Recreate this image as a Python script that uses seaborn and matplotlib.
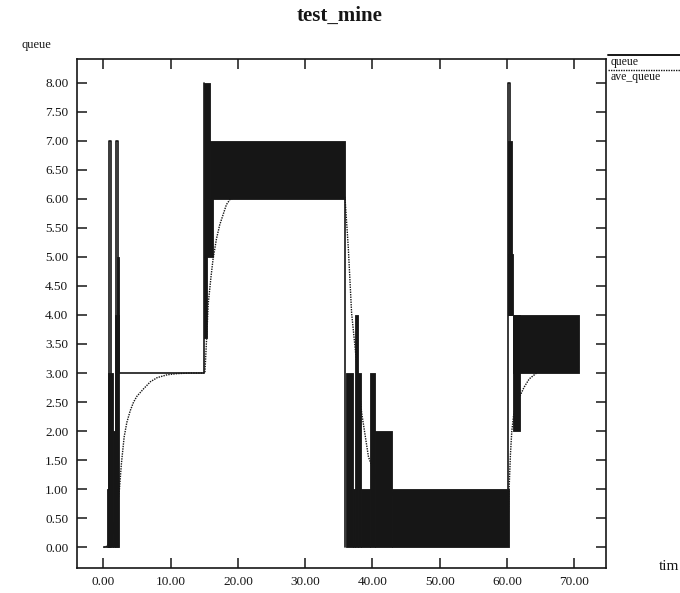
import matplotlib
matplotlib.use("Agg")
import matplotlib.pyplot as plt
from matplotlib.lines import Line2D
import pandas as pd
import seaborn as sns

# ---- data -------------------------------------------------------------
# Connected stretches of the instantaneous queue trace (time, packets)
queue_time_runs = [
    [0.1, 0.6],
    [0.86, 0.86, 1.16, 1.16],
    [1.84, 1.84, 2.14, 2.14],
    [2.3, 15.0, 15.0],
    [35.9, 35.9],
    [60.2, 60.2, 60.45, 60.45],
]
queue_level_runs = [
    [0, 0],
    [0, 7, 7, 0],
    [0, 7, 7, 0],
    [3, 3, 8],
    [6, 0],
    [1, 8, 8, 4],
]

# Intervals where the queue flips rapidly between a low and a high level
band_start = [0.6, 0.75, 1.4, 1.75, 2.1, 14.9, 14.9, 14.9, 15.85,
              36.0, 37.1, 37.4, 37.9, 38.3, 39.6, 40.4, 42.85,
              60.2, 60.2, 60.85, 60.85]
band_end = [1.0, 1.4, 1.75, 2.3, 2.3, 15.85, 16.3, 15.35, 35.9,
            37.1, 37.4, 37.9, 38.3, 39.6, 40.4, 42.85, 60.3,
            60.7, 60.9, 61.9, 70.7]
band_low = [0, 0, 0, 0, 3, 6, 5, 3.6, 6,
            0, 0, 0, 0, 0, 0, 0, 0,
            4, 4, 2, 3]
band_high = [1, 3, 2, 4, 5, 8, 6, 5, 7,
             3, 1, 4, 3, 1, 3, 2, 1,
             7, 5.05, 4, 4]

# Averaged queue length
ave_time = [0.0, 0.6, 1.0, 1.5, 2.0, 2.4, 2.7, 3.1, 3.5, 4.0, 4.5, 5.0, 6.0,
            7.0, 8.0, 9.5, 11.0, 13.0, 15.1, 15.4, 15.6, 16.0, 16.3, 16.8,
            17.3, 18.3, 18.9, 22.0, 26.0, 30.0, 35.9, 36.4, 36.9, 37.65,
            38.4, 39.4, 40.5, 42.0, 45.0, 50.0, 55.0, 60.2, 60.3, 60.5,
            60.7, 61.0, 61.5, 61.9, 62.5, 63.3, 64.6, 66.0, 68.0, 70.7]
ave_level = [0.0, 0.02, 0.1, 0.3, 0.6, 1.0, 1.45, 1.9, 2.15, 2.35, 2.5, 2.6,
             2.73, 2.85, 2.92, 2.97, 2.99, 3.0, 3.0, 3.7, 4.2, 4.65, 4.95,
             5.3, 5.55, 5.9, 6.0, 6.05, 6.08, 6.1, 6.05, 5.17, 4.03, 3.17,
             2.31, 1.56, 1.2, 1.0, 0.75, 0.6, 0.55, 0.6, 1.0, 1.6,
             2.0, 2.3, 2.5, 2.6, 2.75, 2.9, 3.02, 3.08, 3.1, 3.1]

x_ticks = [0, 10, 20, 30, 40, 50, 60, 70]
y_ticks = [0.0, 0.5, 1.0, 1.5, 2.0, 2.5, 3.0, 3.5, 4.0,
           4.5, 5.0, 5.5, 6.0, 6.5, 7.0, 7.5, 8.0]

# ---- styling ----------------------------------------------------------
sns.set_style("ticks")
plt.rcParams["font.family"] = ["Liberation Serif", "DejaVu Serif"]
INK = "#161616"

fig = plt.figure(figsize=(6.8, 5.93), dpi=100)
ax = fig.add_axes([76.7 / 680, 1 - 568 / 593, (606 - 76.7) / 680, (568 - 59.3) / 593])

# dense oscillation bands
for s, e, lo, hi in zip(band_start, band_end, band_low, band_high):
    ax.fill_between([s, e], [lo, lo], [hi, hi], color=INK, lw=0.6,
                    edgecolor=INK, zorder=2)

# queue trace
rows = []
for k, (ts, qs) in enumerate(zip(queue_time_runs, queue_level_runs)):
    for t, q in zip(ts, qs):
        rows.append({"time": t, "queue": q, "run": k})
qdf = pd.DataFrame(rows)
sns.lineplot(data=qdf, x="time", y="queue", units="run", estimator=None,
             sort=False, color=INK, lw=1.2, ax=ax, zorder=3)

# averaged queue
adf = pd.DataFrame({"time": ave_time, "ave_queue": ave_level})
sns.lineplot(data=adf, x="time", y="ave_queue", color=INK, lw=1.0,
             linestyle=(0, (1, 0.8)), ax=ax, zorder=4)

ax.set_xlim(-3.95, 74.7)
ax.set_ylim(-0.356, 8.40)
ax.set_xticks(x_ticks)
ax.set_yticks(y_ticks)
ax.set_xticklabels([f"{v:.2f}" for v in x_ticks])
ax.set_yticklabels([f"{v:.2f}" for v in y_ticks])
ax.set_xlabel("")
ax.set_ylabel("")
ax.tick_params(direction="in", top=True, right=True, length=7, width=1.1,
               color=INK, labelsize=9.5, pad=6, labelcolor=INK)
for sp in ax.spines.values():
    sp.set_visible(True)
    sp.set_linewidth(1.2)
    sp.set_color(INK)

# titles and axis captions
fig.text(340 / 680, 1 - 16 / 593, "test_mine", ha="center", va="center",
         fontsize=15, fontweight="bold", color=INK)
fig.text(21 / 680, 1 - 45 / 593, "queue", ha="left", va="center",
         fontsize=9, color=INK)
fig.text(679 / 680, 1 - 566 / 593, "tim", ha="right", va="center",
         fontsize=11, color=INK)

# key on the right margin
fig.add_artist(Line2D([608 / 680, 1.0], [1 - 55 / 593] * 2,
                      transform=fig.transFigure, color=INK, lw=1.4))
fig.text(611 / 680, 1 - 62 / 593, "queue", ha="left", va="center",
         fontsize=8.5, color=INK)
fig.add_artist(Line2D([608 / 680, 1.0], [1 - 70 / 593] * 2,
                      transform=fig.transFigure, color=INK, lw=1.0,
                      linestyle=(0, (1, 0.8))))
fig.text(611 / 680, 1 - 77 / 593, "ave_queue", ha="left", va="center",
         fontsize=8.5, color=INK)

fig.savefig("out.png", dpi=100)
